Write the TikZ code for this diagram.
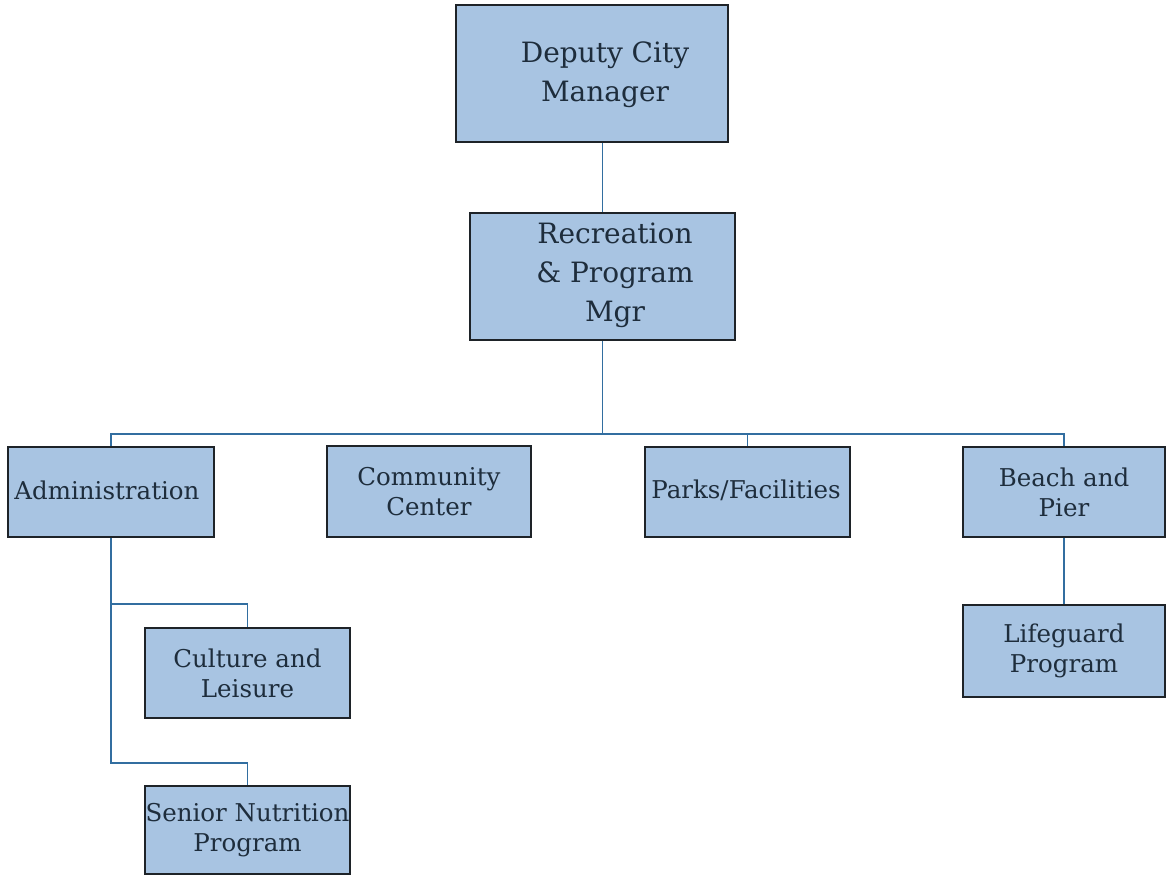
\documentclass[tikz,border=0pt]{standalone}
\usepackage{fontspec}
\setmainfont{DejaVu Serif}
\definecolor{boxfill}{RGB}{168,196,226}
\definecolor{boxline}{RGB}{30,35,40}
\definecolor{connc}{RGB}{50,110,160}
\definecolor{txtc}{RGB}{30,45,60}
\tikzset{
  box/.style={draw=boxline, line width=1.6pt, fill=boxfill, inner sep=0pt},
  bigtxt/.style={text=txtc, align=center, font=\fontsize{28}{39}\selectfont, inner sep=0pt},
  smalltxt/.style={text=txtc, align=center, font=\fontsize{24.5}{30}\selectfont, inner sep=0pt},
  conn/.style={draw=connc, line width=1.6pt}
}
\begin{document}
\begin{tikzpicture}[x=1pt,y=-1pt]
\useasboundingbox[fill=white] (0,0) rectangle (1167,876);
% boxes
\node[box, minimum width=272pt, minimum height=137pt] (dep) at (592,73.5) {};
\node[box, minimum width=265pt, minimum height=127pt] (rec) at (602.5,276.5) {};
\node[box, minimum width=206pt, minimum height=90pt] (adm) at (111,492) {};
\node[box, minimum width=204pt, minimum height=91pt] (com) at (429,491.5) {};
\node[box, minimum width=205pt, minimum height=90pt] (par) at (747.5,492) {};
\node[box, minimum width=202pt, minimum height=90pt] (bea) at (1064,492) {};
\node[box, minimum width=202pt, minimum height=92pt] (lif) at (1064,651) {};
\node[box, minimum width=205pt, minimum height=90pt] (cul) at (247.5,673) {};
\node[box, minimum width=205pt, minimum height=88pt] (sen) at (247.5,830) {};
% texts
\node[bigtxt] (dep-t) at (605,75) {Deputy City\\Manager};
\node[bigtxt] (rec-t) at (615,275) {Recreation\\\& Program\\Mgr};
\node[smalltxt] (adm-t) at (107,490) {Administration};
\node[smalltxt] (com-t) at (429,492) {Community\\Center};
\node[smalltxt] (par-t) at (746,490) {Parks/Facilities};
\node[smalltxt] (bea-t) at (1064,492) {Beach and\\Pier};
\node[smalltxt] (lif-t) at (1064,651) {Lifeguard\\Program};
\node[smalltxt] (cul-t) at (247.5,673) {Culture and\\Leisure};
\node[smalltxt] (sen-t) at (247.5,830) {Senior Nutrition\\Program};
% connector helper coordinates
\coordinate (bus) at (0,434);
\coordinate (b1) at (0,604);
\coordinate (b2) at (0,763);
% connectors
\draw[conn] (rec.north) -- (rec.north |- dep.south);
\draw[conn] (rec.south) -- (rec.south |- bus);
\draw[conn] (adm.north) -- (adm.north |- bus) -- (bea.north |- bus) -- (bea.north);
\draw[conn] (par.north) -- (par.north |- bus);
\draw[conn] (bea.south) -- (lif.north);
\draw[conn] (adm.south) -- (adm.south |- b2) -- (sen.north |- b2) -- (sen.north);
\draw[conn] (adm.south |- b1) -- (cul.north |- b1) -- (cul.north);
\end{tikzpicture}
\end{document}
